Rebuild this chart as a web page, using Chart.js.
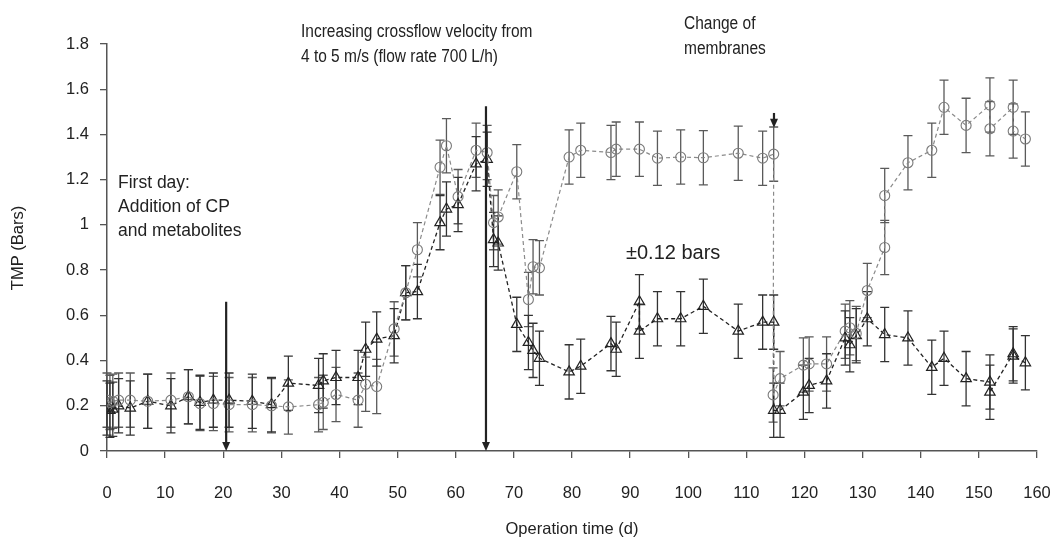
<!DOCTYPE html>
<html>
<head>
<meta charset="utf-8">
<script src="https://cdn.jsdelivr.net/npm/chart.js@4.4.1/dist/chart.umd.min.js"></script>
<style>
  html, body { margin: 0; padding: 0; background: #fff; }
  #wrap { width: 1061px; height: 542px; position: relative; }
</style>
</head>
<body>
<div id="wrap"><canvas id="tmpChart" width="1061" height="542"></canvas></div>
<script>
// operation time (d) and TMP (bars)
const triDays = [0, 0.5, 1, 2, 4, 7, 11, 14, 16, 18.3, 21, 25, 28.3, 31.2, 36.4, 37.2, 39.4, 43.2, 44.5, 46.4,
  49.4, 51.4, 53.4, 57.3, 58.4, 60.4, 63.5, 65.4, 66.5, 67.3, 70.5, 72.5, 73.3, 74.4, 79.5, 81.5, 86.7, 87.6,
  91.6, 91.6, 94.7, 98.7, 102.6, 108.6, 112.8, 114.7, 114.7, 115.8, 119.8, 120.8, 123.8, 127, 127.8, 128.9,
  130.8, 133.8, 137.8, 141.9, 144, 147.8, 151.9, 151.9, 155.9, 155.9, 158];
const triTMP = [0.19, 0.18, 0.185, 0.2, 0.19, 0.22, 0.2, 0.24, 0.215, 0.225, 0.225, 0.22, 0.205, 0.3, 0.29, 0.31, 0.325, 0.325, 0.45, 0.495,
  0.51, 0.7, 0.705, 1.01, 1.07, 1.09, 1.27, 1.29, 0.935, 0.92, 0.56, 0.48, 0.445, 0.41, 0.35, 0.375, 0.475, 0.45,
  0.66, 0.53, 0.585, 0.585, 0.64, 0.53, 0.57, 0.57, 0.18, 0.18, 0.26, 0.29, 0.31, 0.5, 0.47, 0.51,
  0.585, 0.515, 0.5, 0.37, 0.41, 0.32, 0.305, 0.26, 0.43, 0.42, 0.39];

const circDays = [0, 0.5, 1, 2, 4, 7, 11, 14, 16, 18.3, 21, 25, 28.3, 31.2, 36.4, 37.2, 39.4, 43.2, 44.5, 46.4,
  49.4, 51.4, 53.4, 57.3, 58.4, 60.4, 63.5, 65.4, 66.5, 67.3, 70.5, 72.5, 73.3, 74.4, 79.5, 81.5, 86.7, 87.6,
  91.6, 94.7, 98.7, 102.6, 108.6, 112.8, 114.7, 114.6, 115.8, 119.8, 120.8, 123.8, 127, 127.8, 128.9,
  130.8, 133.8, 133.8, 137.8, 141.9, 144, 147.8, 151.9, 151.9, 155.9, 155.9, 158];
const circTMP = [0.225, 0.215, 0.22, 0.225, 0.225, 0.22, 0.225, 0.24, 0.21, 0.21, 0.205, 0.205, 0.2, 0.195, 0.205, 0.215, 0.25, 0.225, 0.295, 0.285,
  0.54, 0.7, 0.89, 1.255, 1.35, 1.125, 1.33, 1.32, 1.01, 1.035, 1.235, 0.67, 0.815, 0.81, 1.3, 1.33, 1.32, 1.335,
  1.335, 1.295, 1.3, 1.297, 1.317, 1.295, 1.313, 0.248, 0.32, 0.38, 0.385, 0.385, 0.53, 0.545, 0.52,
  0.71, 0.9, 1.13, 1.275, 1.33, 1.52, 1.44, 1.53, 1.425, 1.52, 1.415, 1.38];

const errorBar = 0.12;

const xTicks = [0, 10, 20, 30, 40, 50, 60, 70, 80, 90, 100, 110, 120, 130, 140, 150, 160];
const yTicks = [0, 0.2, 0.4, 0.6, 0.8, 1, 1.2, 1.4, 1.6, 1.8];
const yTickLabels = ["0", "0.2", "0.4", "0.6", "0.8", "1", "1.2", "1.4", "1.6", "1.8"];

// events marked with arrows: day, TMP at arrow tail, TMP at arrow head
const arrowDays = [20.5, 65.2, 114.75];
const arrowFrom = [0.66, 1.525, 1.495];
const arrowTo = [0, 0, 1.43];

const FONT = '"Liberation Sans", Arial, Helvetica, sans-serif';

function toPoints(xs, ys) {
  return xs.map((x, i) => ({ x: x, y: ys[i] }));
}

const errorBarsPlugin = {
  id: "errorBars",
  beforeDatasetsDraw(chart) {
    const ctx = chart.ctx;
    const xs = chart.scales.x, ys = chart.scales.y;
    chart.data.datasets.forEach(ds => {
      ctx.save();
      ctx.strokeStyle = ds.errColor;
      ctx.lineWidth = 1.3;
      ds.data.forEach(p => {
        const px = xs.getPixelForValue(p.x);
        const top = ys.getPixelForValue(p.y + errorBar);
        const bot = ys.getPixelForValue(Math.max(0, p.y - errorBar));
        ctx.beginPath();
        ctx.moveTo(px, top); ctx.lineTo(px, bot);
        ctx.moveTo(px - 4.5, top); ctx.lineTo(px + 4.5, top);
        ctx.moveTo(px - 4.5, bot); ctx.lineTo(px + 4.5, bot);
        ctx.stroke();
      });
      ctx.restore();
    });
  }
};

// condensed text, the top notes use a narrow face
function narrowText(ctx, txt, x, y, size, squeeze) {
  ctx.save();
  ctx.font = size + "px " + FONT;
  ctx.translate(x, y);
  ctx.scale(squeeze, 1);
  ctx.fillText(txt, 0, 0);
  ctx.restore();
}

const notesPlugin = {
  id: "notes",
  afterDraw(chart) {
    const ctx = chart.ctx;
    const xs = chart.scales.x, ys = chart.scales.y;
    ctx.save();

    // arrows
    ctx.strokeStyle = "#222";
    ctx.fillStyle = "#222";
    arrowDays.forEach((d, i) => {
      const px = xs.getPixelForValue(d);
      const y0 = ys.getPixelForValue(arrowFrom[i]);
      const y1 = ys.getPixelForValue(arrowTo[i]);
      ctx.lineWidth = 2.2;
      ctx.beginPath();
      ctx.moveTo(px, y0);
      ctx.lineTo(px, y1 - 8);
      ctx.stroke();
      ctx.beginPath();
      ctx.moveTo(px - 4, y1 - 9);
      ctx.lineTo(px + 4, y1 - 9);
      ctx.lineTo(px, y1);
      ctx.closePath();
      ctx.fill();
    });

    // text
    ctx.fillStyle = "#222";
    ctx.textAlign = "left";
    ctx.textBaseline = "alphabetic";
    narrowText(ctx, "Increasing crossflow velocity from", 301, 37, 18, 0.86);
    narrowText(ctx, "4 to 5 m/s (flow rate 700 L/h)", 301, 62, 18, 0.86);
    narrowText(ctx, "Change of", 684, 29, 18, 0.86);
    narrowText(ctx, "membranes", 684, 54, 18, 0.86);

    ctx.font = "17.5px " + FONT;
    ctx.fillText("First day:", 118, 188);
    ctx.fillText("Addition of CP", 118, 212);
    ctx.fillText("and metabolites", 118, 236);

    ctx.font = "20px " + FONT;
    ctx.fillText("\u00b10.12 bars", 626, 259);

    ctx.font = "16.5px " + FONT;
    ctx.textAlign = "center";
    ctx.fillText("Operation time (d)", 572, 534);
    ctx.translate(23, 248);
    ctx.rotate(-Math.PI / 2);
    ctx.fillText("TMP (Bars)", 0, 0);
    ctx.restore();
  }
};

new Chart(document.getElementById("tmpChart"), {
  type: "line",
  data: {
    datasets: [
      {
        label: "circles",
        data: toPoints(circDays, circTMP),
        borderColor: "#8a8a8a",
        borderWidth: 1.2,
        borderDash: [4, 3],
        pointStyle: "circle",
        pointRadius: 5,
        pointBorderColor: "#7a7a7a",
        pointBackgroundColor: "rgba(0,0,0,0)",
        pointBorderWidth: 1.1,
        errColor: "#5a5a5a",
        tension: 0
      },
      {
        label: "triangles",
        data: toPoints(triDays, triTMP),
        borderColor: "#222",
        borderWidth: 1.3,
        borderDash: [4, 3],
        pointStyle: "triangle",
        pointRadius: 6,
        pointBorderColor: "#222",
        pointBackgroundColor: "rgba(0,0,0,0)",
        pointBorderWidth: 1.2,
        errColor: "#333",
        tension: 0
      }
    ]
  },
  options: {
    responsive: false,
    animation: false,
    layout: { padding: { top: 44, right: 24, left: 0, bottom: 0 } },
    plugins: {
      legend: { display: false },
      tooltip: { enabled: false }
    },
    scales: {
      x: {
        type: "linear",
        min: 0,
        max: 160,
        afterBuildTicks: s => { s.ticks = xTicks.map(v => ({ value: v })); },
        afterFit: s => { s.height = 91; s.paddingLeft = 0; s.paddingRight = 0; },
        ticks: { color: "#222", font: { family: FONT, size: 16.5 }, padding: 26, maxRotation: 0 },
        grid: { drawOnChartArea: false, drawTicks: true, tickLength: 7, color: "#555", lineWidth: 1.3 },
        border: { display: true, color: "#555", width: 1.5 }
      },
      y: {
        min: 0,
        max: 1.8,
        afterBuildTicks: s => { s.ticks = yTicks.map(v => ({ value: v })); },
        afterFit: s => { s.width = 107; s.paddingTop = 0; s.paddingBottom = 0; },
        ticks: {
          color: "#222",
          font: { family: FONT, size: 16.5 },
          padding: 11,
          callback: (v, i) => yTickLabels[i]
        },
        grid: { drawOnChartArea: false, drawTicks: true, tickLength: 7, color: "#555", lineWidth: 1.3 },
        border: { display: true, color: "#555", width: 1.5 }
      }
    }
  },
  plugins: [errorBarsPlugin, notesPlugin]
});
</script>
</body>
</html>
